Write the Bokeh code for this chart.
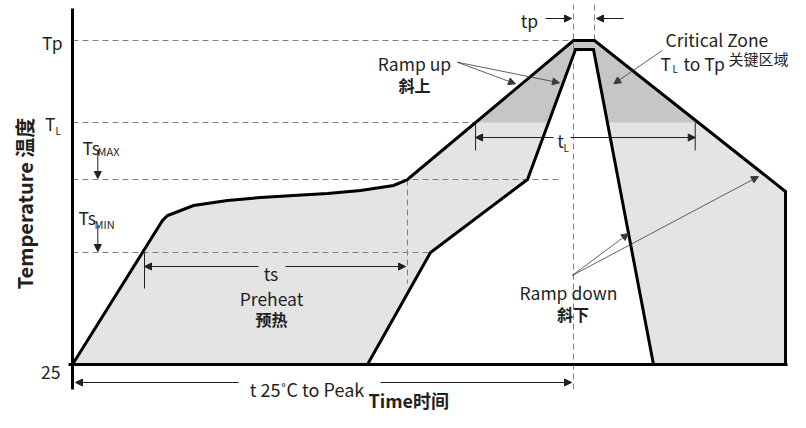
import numpy as np
from bokeh.plotting import figure
from bokeh.models import Range1d, Arrow, NormalHead
from bokeh.core.properties import value
from bokeh.embed import file_html
from bokeh.resources import INLINE

T_BASE, TS_MIN, TS_MAX, T_LIQ, T_PEAK = 0, 112, 185, 242, 324
level_labels = ["Tp", "T", "Ts", "Ts", "25"]
level_subs = ["", "L", "MAX", "MIN", ""]

# outer (slow) profile: ramp, soak, ramp to peak, flat peak, cool-down
outer_t = [0, 90, 95, 103, 121, 155, 188, 221, 255, 288, 308, 321, 331, 335, 501, 522, 713, 713]
outer_T = [0, 144, 149, 152, 159, 164, 167, 169, 171, 174, 177, 179, 183, 185, 324, 324, 173, 0]

# inner (fast) profile
inner_t = [295, 358, 455, 503, 521, 581]
inner_T = [0, 112, 185, 315, 315, 0]

t_peak_start, t_peak_end = 501, 522
t_end = 713

FONT = "Noto Sans CJK SC"
INK = "#231f20"
DASH = "#808080"
LBL = 17.5

p = figure(width=790, height=412, x_range=Range1d(-72, 718), y_range=Range1d(-48, 364),
           output_backend="svg", toolbar_location=None,
           x_axis_location=None, y_axis_location=None, min_border=0)
p.grid.visible = False
p.outline_line_color = None

# crossings with T_L on the outer curve
ot = np.array(outer_t, float); oT = np.array(outer_T, float)
ipk = outer_t.index(t_peak_start)
left_tl = float(np.interp(T_LIQ, oT[ipk - 1:ipk + 1], ot[ipk - 1:ipk + 1]))
jpk = outer_t.index(t_peak_end)
right_tl = float(np.interp(T_LIQ, [oT[jpk + 1], oT[jpk]], [ot[jpk + 1], ot[jpk]]))
ts_start = float(np.interp(TS_MIN, oT[:2], ot[:2]))
ts_end = outer_t[outer_T.index(TS_MAX)]
ii = inner_T.index(TS_MAX)

# fills
p.patch(outer_t, outer_T, fill_color="#e4e4e4", line_color=None)
p.patch([left_tl, t_peak_start, t_peak_end, right_tl], [T_LIQ, T_PEAK, T_PEAK, T_LIQ],
        fill_color="#c6c6c6", line_color=None)
p.patch(inner_t, inner_T, fill_color="white", line_color=None)

# dashed guide lines
dl = dict(line_color=DASH, line_width=1, line_dash="6 4")
p.line([0, t_peak_start], [T_PEAK, T_PEAK], **dl)
p.line([0, left_tl], [T_LIQ, T_LIQ], **dl)
p.line([0, inner_t[ii] + 33], [TS_MAX, TS_MAX], **dl)
p.line([0, inner_t[1]], [TS_MIN, TS_MIN], **dl)
p.line([t_peak_start, t_peak_start], [-25, 360], **dl)
p.line([t_peak_end, t_peak_end], [T_PEAK, 360], **dl)
p.line([ts_end, ts_end], [TS_MAX, 81], **dl)

# profile lines and axes
p.line(outer_t, outer_T, line_color="black", line_width=3, line_join="miter")
p.line(inner_t, inner_T, line_color="black", line_width=3, line_join="miter")
p.line([-4, t_end + 2], [T_BASE, T_BASE], line_color="black", line_width=3)
p.line([0, 0], [-25, 356], line_color="black", line_width=3)

# measurement ticks
p.line([ts_start + 2, ts_start + 2], [TS_MIN, 76], line_color=INK, line_width=1)
p.line([left_tl, left_tl], [T_LIQ, 214], line_color=INK, line_width=1)
p.line([right_tl - 3, right_tl - 3], [T_LIQ, 214], line_color=INK, line_width=1)


def arrow(x0, y0, x1, y1, color=INK, width=1.0, size=7):
    p.add_layout(Arrow(end=NormalHead(size=size, fill_color=color, line_color=color, line_width=1),
                       x_start=x0, y_start=y0, x_end=x1, y_end=y1,
                       line_color=color, line_width=width))


# dimension arrows
arrow(186, 98, ts_start + 2, 98)
arrow(213, 98, ts_end - 2, 98)
arrow(481, 227, left_tl, 227)
arrow(498, 227, right_tl - 3, 227)
arrow(166, -18, 3, -18)
arrow(308, -18, t_peak_start - 2, -18)
arrow(473, 346, t_peak_start - 2, 346)
arrow(551, 346, t_peak_end + 2, 346)
arrow(25.3, 213, 25.3, TS_MAX + 1)
arrow(25.3, 139, 25.3, TS_MIN + 1)

# pointer arrows
arrow(384.7, 302.3, 443, 280.7, color="#3a3a3a", width=0.8)
arrow(384.7, 302.3, 487, 281.7, color="#3a3a3a", width=0.8)
arrow(589.7, 314, 541.3, 280.7, color="#3a3a3a", width=0.8)
arrow(499.7, 89, 556, 131, color="#3a3a3a", width=0.8)
arrow(499.7, 89, 686, 188, color="#3a3a3a", width=0.8)


def txt(x, y, s, size=LBL, align="left", baseline="alphabetic", bold=False, angle=0):
    p.text(x=[x], y=[y], text=[s], text_font=value(FONT), text_font_size=f"{size}px",
           text_align=align, text_baseline=baseline, text_color=INK,
           text_font_style="bold" if bold else "normal", angle=angle)


# level labels
txt(-10, 322, level_labels[0], align="right")
txt(-17, 241, level_labels[1], align="right")
txt(-17, 234, level_subs[1], size=10)
txt(10, 217, level_labels[2])
txt(25, 214, level_subs[2], size=11)
txt(6, 147, level_labels[3])
txt(22, 141, level_subs[3], size=11)
txt(-12, -8, level_labels[4], align="right")

# annotations
txt(457, 344, "tp", align="center")
txt(342, 301, "Ramp up", align="center")
txt(342, 279.5, "斜上", size=16, align="center", baseline="middle", bold=True)
txt(593, 325, "Critical Zone")
txt(588, 301, "T")
txt(600, 296, "L", size=10)
txt(611, 301, "to Tp")
txt(656, 306, "关键区域", size=15, baseline="middle")
txt(488, 224, "t", align="center")
txt(491, 217, "L", size=10)
txt(198.5, 91, "ts", align="center")
txt(199, 66, "Preheat", align="center")
txt(199, 46, "预热", size=16, align="center", baseline="middle", bold=True)
txt(496, 72, "Ramp down", align="center")
txt(500.5, 50.7, "斜下", size=16, align="center", baseline="middle", bold=True)
txt(234.5, -24, "t 25˚C to Peak", size=18, align="center")

# axis titles
txt(296, -35, "Time时间", size=18, bold=True)
txt(-48, 161, "Temperature 温度", size=20, align="center", baseline="middle", bold=True, angle=np.pi / 2)

open("out.html", "w").write(file_html(p, INLINE))
